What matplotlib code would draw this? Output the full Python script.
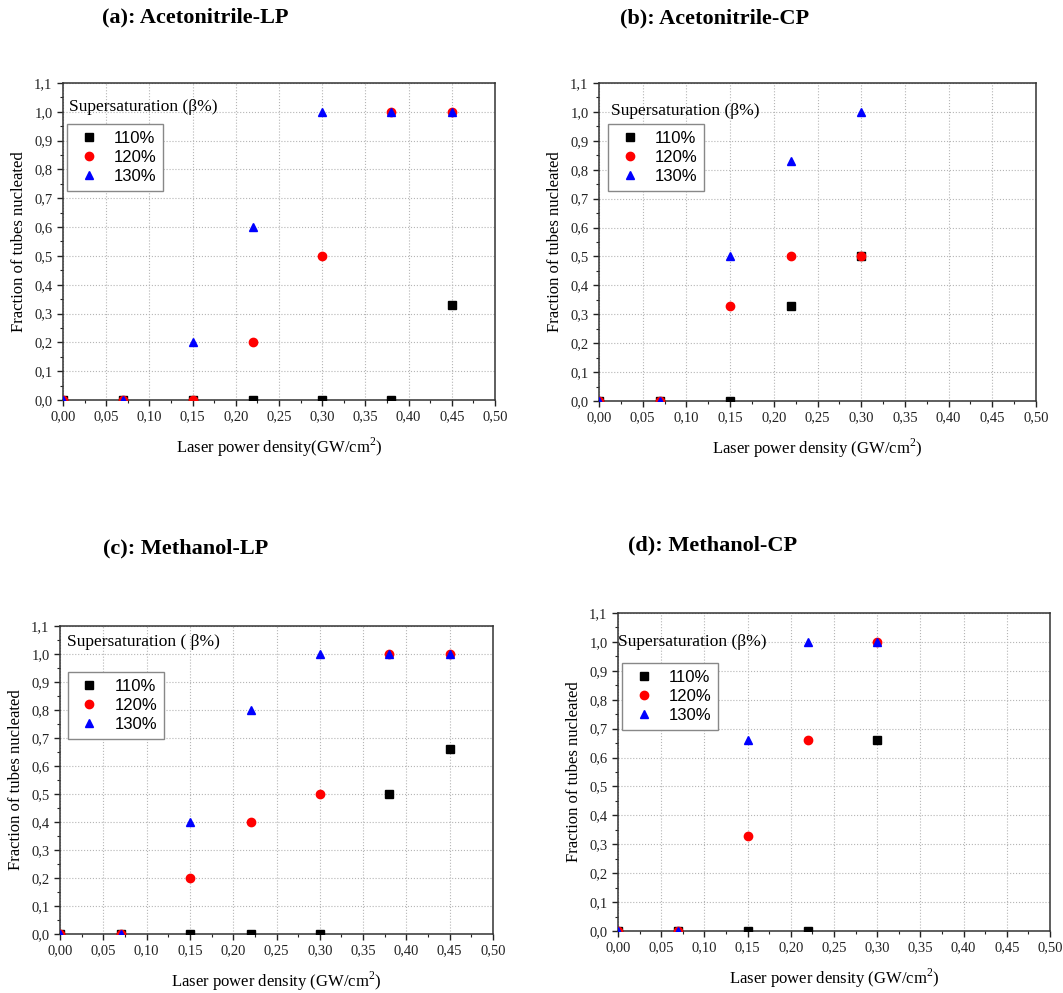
import numpy as np
import matplotlib
matplotlib.use("Agg")
import matplotlib.pyplot as plt
from matplotlib.ticker import MultipleLocator, FuncFormatter

plt.rcParams['font.family'] = ['Liberation Serif', 'DejaVu Serif']
plt.rcParams['mathtext.fontset'] = 'custom'
plt.rcParams['mathtext.rm'] = 'Liberation Serif'

# ---- data ----
labels = ['110%', '120%', '130%']

x_a = [0.0, 0.07, 0.15, 0.22, 0.30, 0.38, 0.45]
a_110 = [0, 0, 0, 0, 0, 0, 0.33]
a_120 = [0, 0, 0, 0.2, 0.5, 1.0, 1.0]
a_130 = [0, 0, 0.2, 0.6, 1.0, 1.0, 1.0]

x_b = [0.0, 0.07, 0.15, 0.22, 0.30]
b_110 = [0, 0, 0, 0.33, 0.5]
b_120 = [0, 0, 0.33, 0.5, 0.5]
b_130 = [0, 0, 0.5, 0.83, 1.0]

x_c = [0.0, 0.07, 0.15, 0.22, 0.30, 0.38, 0.45]
c_110 = [0, 0, 0, 0, 0, 0.5, 0.66]
c_120 = [0, 0, 0.2, 0.4, 0.5, 1.0, 1.0]
c_130 = [0, 0, 0.4, 0.8, 1.0, 1.0, 1.0]

x_d = [0.0, 0.07, 0.15, 0.22, 0.30]
d_110 = [0, 0, 0, 0, 0.66]
d_120 = [0, 0, 0.33, 0.66, 1.0]
d_130 = [0, 0, 0.66, 1.0, 1.0]

titles = ['(a): Acetonitrile-LP', '(b): Acetonitrile-CP',
          '(c): Methanol-LP', '(d): Methanol-CP']
xlabels = ['Laser power density(GW/cm$^2$)', 'Laser power density (GW/cm$^2$)',
           'Laser power density (GW/cm$^2$)', 'Laser power density (GW/cm$^2$)']
leg_titles = ['Supersaturation (\u03b2%)', 'Supersaturation (\u03b2%)',
              'Supersaturation ( \u03b2%)', 'Supersaturation (\u03b2%)']

W, H = 1063, 993
fig = plt.figure(figsize=(W / 100, H / 100), dpi=100)


def px_axes(l, t, r, b):
    return fig.add_axes([l / W, 1 - b / H, (r - l) / W, (b - t) / H])


comma = FuncFormatter(lambda v, p: ('%.2f' % v).replace('.', ','))
comma1 = FuncFormatter(lambda v, p: ('%.1f' % v).replace('.', ','))

panels = [
    (px_axes(63, 83, 495, 400), x_a, [a_110, a_120, a_130], (102, 17),
     (0.014, 0.924), (0.009, 0.871)),
    (px_axes(599, 83, 1036, 401), x_b, [b_110, b_120, b_130], (620, 18),
     (0.027, 0.912), (0.021, 0.871)),
    (px_axes(60, 626, 493, 934), x_c, [c_110, c_120, c_130], (103, 548),
     (0.016, 0.948), (0.018, 0.851)),
    (px_axes(618, 613, 1050, 931), x_d, [d_110, d_120, d_130], (628, 545),
     (0.0, 0.909), (0.009, 0.843)),
]

styles = [dict(marker='s', color='black', ms=6),
          dict(marker='o', color='red', ms=6),
          dict(marker='^', color='blue', ms=5.5)]

for i, (ax, xs, ys, tpos, tt, lpos) in enumerate(panels):
    handles = []
    for y, st, lab in zip(ys, styles, labels):
        h, = ax.plot(xs, y, linestyle='none', marker=st['marker'],
                     markersize=st['ms'], markerfacecolor=st['color'],
                     markeredgecolor=st['color'], label=lab, zorder=3)
        handles.append(h)

    ax.set_xlim(0, 0.5)
    ax.set_ylim(0, 1.1)
    ax.xaxis.set_major_locator(MultipleLocator(0.05))
    ax.xaxis.set_minor_locator(MultipleLocator(0.025))
    ax.yaxis.set_major_locator(MultipleLocator(0.1))
    ax.yaxis.set_minor_locator(MultipleLocator(0.05))
    ax.xaxis.set_major_formatter(comma)
    ax.yaxis.set_major_formatter(comma1)
    ax.tick_params(which='both', direction='out', top=False, right=False,
                   labelsize=10.5, colors='#222222')
    ax.tick_params(which='major', length=4, width=1)
    ax.tick_params(which='minor', length=2.5, width=0.8)
    for s in ax.spines.values():
        s.set_linewidth(1.1)
        s.set_color('#333333')
    ax.grid(True, which='major', linestyle=':', color='#b5b5b5', linewidth=0.8)
    ax.set_axisbelow(True)

    ax.set_xlabel(xlabels[i], fontsize=12, labelpad=9)
    ax.set_ylabel('Fraction of tubes nucleated', fontsize=12, labelpad=5)

    ax.text(tt[0], tt[1], leg_titles[i], transform=ax.transAxes,
            fontsize=12.5, va='center', ha='left', zorder=4)
    leg = ax.legend(handles=handles, loc='upper left', bbox_to_anchor=lpos,
                    borderaxespad=0, fancybox=False, framealpha=1,
                    edgecolor='#888888', handlelength=1.8, handletextpad=0.6,
                    borderpad=0.4, labelspacing=0.25,
                    prop={'family': 'Liberation Sans', 'size': 12})
    leg.get_frame().set_linewidth(1.0)

    fig.text(tpos[0] / W, 1 - tpos[1] / H, titles[i], fontsize=16,
             fontweight='bold', ha='left', va='center')

fig.savefig('out.png', dpi=100)
